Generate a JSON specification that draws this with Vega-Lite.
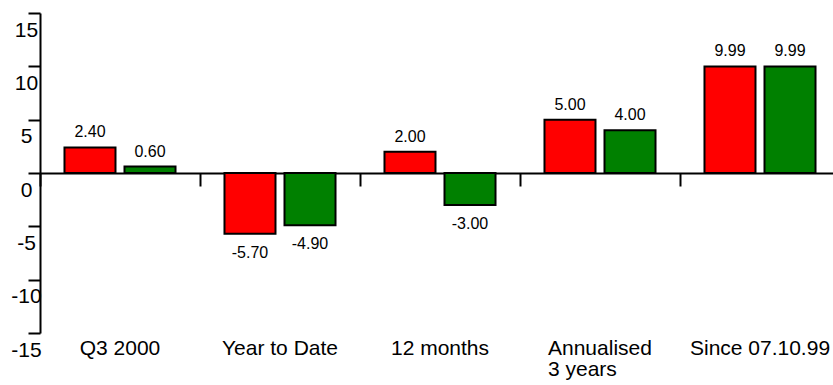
{
  "$schema": "https://vega.github.io/schema/vega-lite/v6.json",
  "width": 800,
  "height": 320,
  "autosize": {"type": "none"},
  "padding": {"left": 40, "top": 13, "right": -7, "bottom": 52},
  "background": "white",
  "config": {"view": {"stroke": null}, "font": "Liberation Sans",
    "locale": {"number": {"decimal": ".", "thousands": ",", "grouping": [3], "currency": ["$", ""], "minus": "-"}}},
  "data": {"values": [
    {"period": "Q3 2000", "series": "A", "value": 2.40},
    {"period": "Q3 2000", "series": "B", "value": 0.60},
    {"period": "Year to Date", "series": "A", "value": -5.70},
    {"period": "Year to Date", "series": "B", "value": -4.90},
    {"period": "12 months", "series": "A", "value": 2.00},
    {"period": "12 months", "series": "B", "value": -3.00},
    {"period": "Annualised 3 years", "series": "A", "value": 5.00},
    {"period": "Annualised 3 years", "series": "B", "value": 4.00},
    {"period": "Since 07.10.99", "series": "A", "value": 9.99},
    {"period": "Since 07.10.99", "series": "B", "value": 9.99}
  ]},
  "layer": [
    {
      "mark": {"type": "bar", "stroke": "black", "strokeWidth": 2},
      "encoding": {
        "x": {"field": "period", "type": "nominal", "sort": null,
          "scale": {"paddingInner": 0, "paddingOuter": 0},
          "axis": {"orient": "bottom", "title": null, "domain": false, "ticks": false, "tickSize": 0,
            "labelAngle": 0, "labelFontSize": 21, "labelColor": "black", "labelPadding": 4,
            "labelBaseline": "top", "labelLineHeight": 21, "labelOverlap": false, "labelFlush": false,
            "labelExpr": "datum.value == 'Annualised 3 years' ? ['Annualised', '3 years'] : datum.label",
            "labelAlign": {"condition": {"test": "datum.value == 'Annualised 3 years'", "value": "left"}, "value": "center"},
            "labelOffset": {"condition": {"test": "datum.value == 'Annualised 3 years'", "value": -52}, "value": 0}
          }},
        "xOffset": {"field": "series", "type": "nominal", "scale": {"paddingInner": 0.15, "paddingOuter": 0.408}},
        "y": {"field": "value", "type": "quantitative",
          "scale": {"domain": [-15, 15], "nice": false, "zero": false},
          "axis": {"orient": "left", "title": null, "grid": false, "values": [-15, -10, -5, 0, 5, 10, 15],
            "labelExpr": "replace(datum.label, '\u2212', '-')",
            "domainColor": "black", "domainWidth": 2, "tickColor": "black", "tickWidth": 2, "tickSize": 12,
            "labelAlign": "center", "labelPadding": 2, "labelBaseline": "top", "labelOffset": 6,
            "labelFontSize": 21, "labelColor": "black", "labelFlush": false, "labelOverlap": false}},
        "color": {"field": "series", "type": "nominal", "scale": {"domain": ["A", "B"], "range": ["#ff0000", "#008000"]}, "legend": null}
      }
    },
    {
      "transform": [{"filter": "datum.value >= 0"}],
      "mark": {"type": "text", "fontSize": 16, "color": "black", "baseline": "alphabetic", "dy": -10},
      "encoding": {
        "x": {"field": "period", "type": "nominal", "sort": null,
          "axis": {"orient": "bottom", "offset": -160, "title": null, "labels": false, "grid": false,
            "domain": true, "domainColor": "black", "domainWidth": 2,
            "ticks": true, "tickBand": "extent", "tickSize": 13, "tickWidth": 2, "tickColor": "black"}},
        "xOffset": {"field": "series", "type": "nominal"},
        "y": {"field": "value", "type": "quantitative"},
        "text": {"field": "value", "type": "quantitative", "format": ".2f"}
      }
    },
    {
      "transform": [{"filter": "datum.value < 0"}],
      "mark": {"type": "text", "fontSize": 16, "color": "black", "baseline": "alphabetic", "dy": 24},
      "encoding": {
        "x": {"field": "period", "type": "nominal", "sort": null, "axis": null},
        "xOffset": {"field": "series", "type": "nominal"},
        "y": {"field": "value", "type": "quantitative"},
        "text": {"field": "value", "type": "quantitative", "format": ".2f"}
      }
    }
  ],
  "resolve": {"axis": {"x": "independent"}}
}
